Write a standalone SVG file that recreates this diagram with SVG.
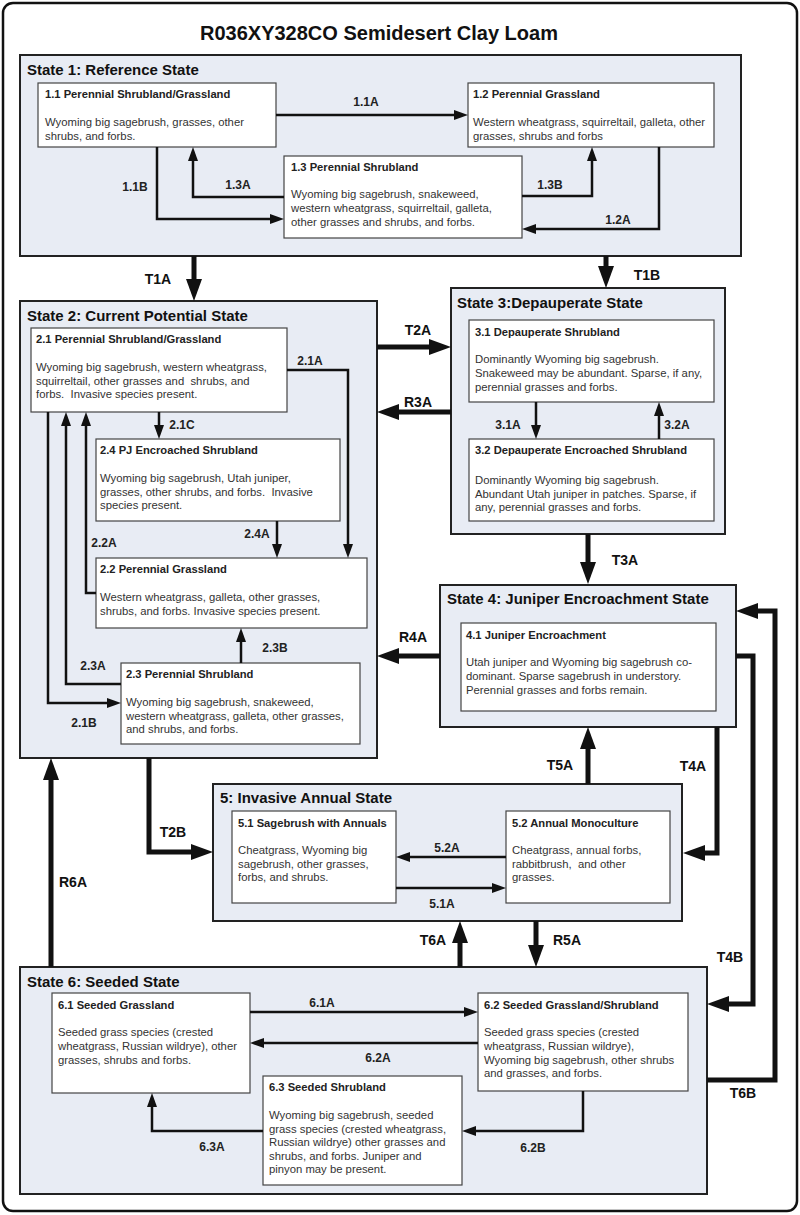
<svg xmlns="http://www.w3.org/2000/svg" width="800" height="1215" viewBox="0 0 800 1215">
<style>
text{font-family:"Liberation Sans",Arial,sans-serif;white-space:pre}
.ttl{font-size:20px;font-weight:bold;fill:#111}
.st{font-size:15px;font-weight:bold;fill:#111}
.bt{font-size:11.2px;font-weight:bold;fill:#222}
.bd{font-size:11.3px;fill:#333}
.lb{font-size:12px;font-weight:bold;fill:#222;text-anchor:middle}
.tl{font-size:14px;font-weight:bold;fill:#111;text-anchor:middle}
.state{fill:#e8ecf4;stroke:#222;stroke-width:2}
.box{fill:#fff;stroke:#444;stroke-width:1.2}
.thin{fill:none;stroke:#111;stroke-width:2.5;marker-end:url(#a)}
.thick{fill:none;stroke:#111;stroke-width:5;marker-end:url(#A)}
</style>
<defs>
<marker id="a" markerUnits="userSpaceOnUse" markerWidth="14" markerHeight="10" refX="4" refY="5" orient="auto"><path d="M0,0 L14,5 L0,10 z" fill="#111"/></marker>
<marker id="A" markerUnits="userSpaceOnUse" markerWidth="22" markerHeight="16" refX="4" refY="8" orient="auto"><path d="M0,0 L22,8 L0,16 z" fill="#111"/></marker>
</defs>
<rect x="3" y="3" width="794" height="1208" rx="10" fill="#fff" stroke="#111" stroke-width="2.5"/>
<text class="ttl" x="200" y="40">R036XY328CO Semidesert Clay Loam</text>

<g id="state1">
<rect class="state" x="20" y="55" width="721" height="201"/>
<text class="st" x="27" y="74.5">State 1: Reference State</text>
</g>
<g id="n11">
<rect class="box" x="38" y="83" width="238" height="64"/>
<text class="bt" x="45" y="98">1.1 Perennial Shrubland/Grassland</text>
<text class="bd" x="45" y="126">Wyoming big sagebrush, grasses, other</text>
<text class="bd" x="45" y="139.5">shrubs, and forbs.</text>
</g>
<g id="n12">
<rect class="box" x="468" y="83" width="246" height="64"/>
<text class="bt" x="473" y="98">1.2 Perennial Grassland</text>
<text class="bd" x="473" y="126">Western wheatgrass, squirreltail, galleta, other</text>
<text class="bd" x="473" y="139.5">grasses, shrubs and forbs</text>
</g>
<g id="n13">
<rect class="box" x="284" y="156" width="238" height="82"/>
<text class="bt" x="291" y="171">1.3 Perennial Shrubland</text>
<text class="bd" x="291" y="198">Wyoming big sagebrush, snakeweed,</text>
<text class="bd" x="291" y="212">western wheatgrass, squirreltail, galleta,</text>
<text class="bd" x="291" y="226">other grasses and shrubs, and forbs.</text>
</g>

<g id="state2">
<rect class="state" x="20" y="301" width="357" height="457"/>
<text class="st" x="27" y="320.5">State 2: Current Potential State</text>
</g>
<g id="n21">
<rect class="box" x="31" y="328" width="256" height="84"/>
<text class="bt" x="36" y="343">2.1 Perennial Shrubland/Grassland</text>
<text class="bd" x="36" y="371">Wyoming big sagebrush, western wheatgrass,</text>
<text class="bd" x="36" y="384.5">squirreltail, other grasses and  shrubs, and</text>
<text class="bd" x="36" y="398">forbs.  Invasive species present.</text>
</g>
<g id="n24">
<rect class="box" x="96" y="439" width="244" height="82"/>
<text class="bt" x="100" y="454">2.4 PJ Encroached Shrubland</text>
<text class="bd" x="100" y="482">Wyoming big sagebrush, Utah juniper,</text>
<text class="bd" x="100" y="495.5">grasses, other shrubs, and forbs.  Invasive</text>
<text class="bd" x="100" y="509">species present.</text>
</g>
<g id="n22">
<rect class="box" x="96" y="558" width="271" height="70"/>
<text class="bt" x="100" y="573">2.2 Perennial Grassland</text>
<text class="bd" x="100" y="601">Western wheatgrass, galleta, other grasses,</text>
<text class="bd" x="100" y="614.5">shrubs, and forbs. Invasive species present.</text>
</g>
<g id="n23">
<rect class="box" x="121" y="663" width="239" height="81"/>
<text class="bt" x="126" y="678">2.3 Perennial Shrubland</text>
<text class="bd" x="126" y="706">Wyoming big sagebrush, snakeweed,</text>
<text class="bd" x="126" y="719.5">western wheatgrass, galleta, other grasses,</text>
<text class="bd" x="126" y="733">and shrubs, and forbs.</text>
</g>

<g id="state3">
<rect class="state" x="451" y="288" width="274" height="246"/>
<text class="st" x="457" y="307.5">State 3:Depauperate State</text>
</g>
<g id="n31">
<rect class="box" x="469" y="320" width="245" height="82"/>
<text class="bt" x="475" y="336">3.1 Depauperate Shrubland</text>
<text class="bd" x="475" y="363">Dominantly Wyoming big sagebrush.</text>
<text class="bd" x="475" y="377">Snakeweed may be abundant. Sparse, if any,</text>
<text class="bd" x="475" y="391">perennial grasses and forbs.</text>
</g>
<g id="n32">
<rect class="box" x="469" y="439" width="245" height="82"/>
<text class="bt" x="475" y="454">3.2 Depauperate Encroached Shrubland</text>
<text class="bd" x="475" y="484">Dominantly Wyoming big sagebrush.</text>
<text class="bd" x="475" y="497.5">Abundant Utah juniper in patches. Sparse, if</text>
<text class="bd" x="475" y="511">any, perennial grasses and forbs.</text>
</g>

<g id="state4">
<rect class="state" x="440" y="585" width="296" height="142"/>
<text class="st" x="447" y="603.5">State 4: Juniper Encroachment State</text>
</g>
<g id="n41">
<rect class="box" x="461" y="623" width="255" height="88"/>
<text class="bt" x="466" y="639">4.1 Juniper Encroachment</text>
<text class="bd" x="466" y="666">Utah juniper and Wyoming big sagebrush co-</text>
<text class="bd" x="466" y="680">dominant. Sparse sagebrush in understory.</text>
<text class="bd" x="466" y="693.5">Perennial grasses and forbs remain.</text>
</g>

<g id="state5">
<rect class="state" x="213" y="784" width="469" height="137"/>
<text class="st" x="220" y="802.5">5: Invasive Annual State</text>
</g>
<g id="n51">
<rect class="box" x="232" y="811" width="164" height="92"/>
<text class="bt" x="238" y="827">5.1 Sagebrush with Annuals</text>
<text class="bd" x="238" y="854">Cheatgrass, Wyoming big</text>
<text class="bd" x="238" y="867.5">sagebrush, other grasses,</text>
<text class="bd" x="238" y="881">forbs, and shrubs.</text>
</g>
<g id="n52">
<rect class="box" x="506" y="811" width="164" height="92"/>
<text class="bt" x="512" y="827">5.2 Annual Monoculture</text>
<text class="bd" x="512" y="854">Cheatgrass, annual forbs,</text>
<text class="bd" x="512" y="867.5">rabbitbrush,  and other</text>
<text class="bd" x="512" y="881">grasses.</text>
</g>

<g id="state6">
<rect class="state" x="20" y="967" width="687" height="227"/>
<text class="st" x="27" y="986.5">State 6: Seeded State</text>
</g>
<g id="n61">
<rect class="box" x="52" y="993" width="198" height="100"/>
<text class="bt" x="58" y="1009">6.1 Seeded Grassland</text>
<text class="bd" x="58" y="1036">Seeded grass species (crested</text>
<text class="bd" x="58" y="1050">wheatgrass, Russian wildrye), other</text>
<text class="bd" x="58" y="1063.5">grasses, shrubs and forbs.</text>
</g>
<g id="n62">
<rect class="box" x="478" y="993" width="210" height="98"/>
<text class="bt" x="484" y="1009">6.2 Seeded Grassland/Shrubland</text>
<text class="bd" x="484" y="1036">Seeded grass species (crested</text>
<text class="bd" x="484" y="1050">wheatgrass, Russian wildrye),</text>
<text class="bd" x="484" y="1063.5">Wyoming big sagebrush, other shrubs</text>
<text class="bd" x="484" y="1077">and grasses, and forbs.</text>
</g>
<g id="n63">
<rect class="box" x="263" y="1076" width="199" height="109"/>
<text class="bt" x="269" y="1091">6.3 Seeded Shrubland</text>
<text class="bd" x="269" y="1119">Wyoming big sagebrush, seeded</text>
<text class="bd" x="269" y="1132.5">grass species (crested wheatgrass,</text>
<text class="bd" x="269" y="1146">Russian wildrye) other grasses and</text>
<text class="bd" x="269" y="1159.5">shrubs, and forbs. Juniper and</text>
<text class="bd" x="269" y="1173">pinyon may be present.</text>
</g>

<g id="connectors">
<path class="thin" d="M276,115 H458"/>
<path class="thin" d="M157,147 V219 H274"/>
<path class="thin" d="M284,197 H193 V157"/>
<path class="thin" d="M522,196 H592 V157"/>
<path class="thin" d="M659,147 V229 H532"/>
<path class="thin" d="M287,370 H348 V548"/>
<path class="thin" d="M159,412 V429"/>
<path class="thin" d="M277,521 V548"/>
<path class="thin" d="M241,663 V638"/>
<path class="thin" d="M96,593 H86 V422"/>
<path class="thin" d="M121,684 H66 V422"/>
<path class="thin" d="M48,412 V703 H111"/>
<path class="thin" d="M536,402 V429"/>
<path class="thin" d="M659,439 V412"/>
<path class="thin" d="M506,857 H406"/>
<path class="thin" d="M396,888 H496"/>
<path class="thin" d="M250,1012 H468"/>
<path class="thin" d="M478,1043 H260"/>
<path class="thin" d="M263,1131 H152 V1103"/>
<path class="thin" d="M583,1091 V1131 H472"/>

<path class="thick" d="M194,256 V283"/>
<path class="thick" d="M606,256 V270"/>
<path class="thick" d="M377,347 H433"/>
<path class="thick" d="M451,412 H395"/>
<path class="thick" d="M588,534 V566"/>
<path class="thick" d="M440,656 H395"/>
<path class="thick" d="M588,784 V745"/>
<path class="thick" d="M717,727 V853 H701"/>
<path class="thick" d="M736,656 H753 V1004 H725"/>
<path class="thick" d="M707,1080 H775 V611 H754"/>
<path class="thick" d="M149,758 V852 H195"/>
<path class="thick" d="M51,967 V776"/>
<path class="thick" d="M460,967 V939"/>
<path class="thick" d="M536,921 V949"/>

<text class="lb" x="366" y="105.5">1.1A</text>
<text class="lb" x="135" y="190.5">1.1B</text>
<text class="lb" x="238" y="188.5">1.3A</text>
<text class="lb" x="550" y="188.5">1.3B</text>
<text class="lb" x="618" y="223.5">1.2A</text>
<text class="lb" x="310" y="364.5">2.1A</text>
<text class="lb" x="182" y="428.5">2.1C</text>
<text class="lb" x="508" y="428.5">3.1A</text>
<text class="lb" x="677" y="428.5">3.2A</text>
<text class="lb" x="257" y="537.5">2.4A</text>
<text class="lb" x="104" y="546.5">2.2A</text>
<text class="lb" x="275" y="651.5">2.3B</text>
<text class="lb" x="93" y="669.5">2.3A</text>
<text class="lb" x="84" y="726.5">2.1B</text>
<text class="lb" x="447" y="851.5">5.2A</text>
<text class="lb" x="442" y="907.5">5.1A</text>
<text class="lb" x="322" y="1006.5">6.1A</text>
<text class="lb" x="378" y="1061.5">6.2A</text>
<text class="lb" x="212" y="1150.5">6.3A</text>
<text class="lb" x="533" y="1151.5">6.2B</text>

<text class="tl" x="158" y="284">T1A</text>
<text class="tl" x="647" y="280">T1B</text>
<text class="tl" x="418" y="335">T2A</text>
<text class="tl" x="418" y="407">R3A</text>
<text class="tl" x="625" y="565">T3A</text>
<text class="tl" x="413" y="642">R4A</text>
<text class="tl" x="560" y="770">T5A</text>
<text class="tl" x="693" y="771">T4A</text>
<text class="tl" x="173" y="837">T2B</text>
<text class="tl" x="73" y="887">R6A</text>
<text class="tl" x="433" y="945">T6A</text>
<text class="tl" x="567" y="945">R5A</text>
<text class="tl" x="730" y="962">T4B</text>
<text class="tl" x="743" y="1098">T6B</text>
</g>
</svg>
